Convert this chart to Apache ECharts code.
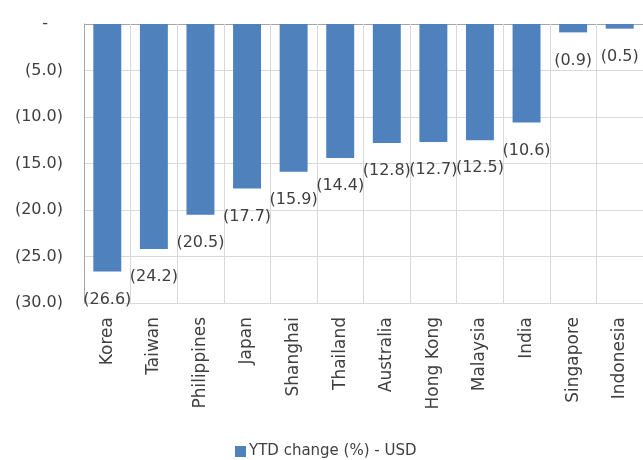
<!DOCTYPE html>
<html>
<head>
<meta charset="utf-8">
<script src="https://cdn.jsdelivr.net/npm/echarts@6/dist/echarts.min.js"></script>
<style>
  html, body { margin: 0; padding: 0; background: #ffffff; }
  #chart { width: 643px; height: 460px; }
</style>
</head>
<body>
<div id="chart"></div>
<script>
// Year-to-date change of Asian markets, in USD terms (%)
const markets = ['Korea', 'Taiwan', 'Philippines', 'Japan', 'Shanghai', 'Thailand',
                 'Australia', 'Hong Kong', 'Malaysia', 'India', 'Singapore', 'Indonesia'];
const ytdChangeUsd = [-26.6, -24.2, -20.5, -17.7, -15.9, -14.4,
                      -12.8, -12.7, -12.5, -10.6, -0.9, -0.5];
const seriesName = 'YTD change (%) - USD';

const FONT = 'DejaVu Sans';
const TEXT = '#404040';

// Accounting style: negatives in brackets, zero as a dash
function accounting(v, digits) {
  if (v === 0) return '-';
  const s = Math.abs(v).toFixed(digits);
  return v < 0 ? '(' + s + ')' : s;
}

// Gridlines run from -30 up to 0; the zero line is drawn darker
const gridColors = ['#d9d9d9', '#d9d9d9', '#d9d9d9', '#d9d9d9', '#d9d9d9', '#d9d9d9', '#a6a6a6'];

const chart = echarts.init(document.getElementById('chart'), null, { renderer: 'canvas' });
chart.setOption({
  animation: false,
  backgroundColor: '#ffffff',
  textStyle: { fontFamily: FONT },
  grid: { left: 84, right: 0, top: 24, bottom: 157, containLabel: false },
  legend: {
    data: [seriesName],
    left: 230,
    top: 439,
    itemWidth: 11,
    itemHeight: 11,
    itemGap: 4,
    icon: 'rect',
    textStyle: { fontFamily: FONT, fontSize: 15, color: TEXT, padding: [0, 0, 0, -2] }
  },
  xAxis: {
    type: 'category',
    data: markets,
    position: 'bottom',
    boundaryGap: true,
    axisLine: { show: true, onZero: false, lineStyle: { color: '#d9d9d9', width: 1 } },
    axisTick: { show: false },
    splitLine: { show: true, lineStyle: { color: '#d9d9d9', width: 1 } },
    axisLabel: {
      rotate: 90,
      margin: 14,
      fontFamily: FONT,
      fontSize: 17,
      color: TEXT,
      interval: 0
    }
  },
  yAxis: {
    type: 'value',
    min: -30,
    max: 0,
    interval: 5,
    axisLine: { show: true, lineStyle: { color: '#a6a6a6', width: 1 } },
    axisTick: { show: false },
    splitLine: { show: true, lineStyle: { color: gridColors, width: 1 } },
    axisLabel: {
      margin: 21,
      fontFamily: FONT,
      fontSize: 16,
      color: TEXT,
      formatter: function (v) {
        return v === 0 ? '{dash|-}' : accounting(v, 1);
      },
      rich: {
        dash: { fontFamily: FONT, fontSize: 16, color: TEXT, padding: [0, 15, 0, 0] }
      }
    }
  },
  series: [{
    name: seriesName,
    type: 'bar',
    data: ytdChangeUsd,
    barWidth: '60%',
    itemStyle: { color: '#4f81bd' },
    label: {
      show: true,
      position: 'bottom',
      distance: 20,
      fontFamily: FONT,
      fontSize: 16,
      color: TEXT,
      formatter: function (p) { return accounting(p.value, 1); }
    }
  }]
});
</script>
</body>
</html>
